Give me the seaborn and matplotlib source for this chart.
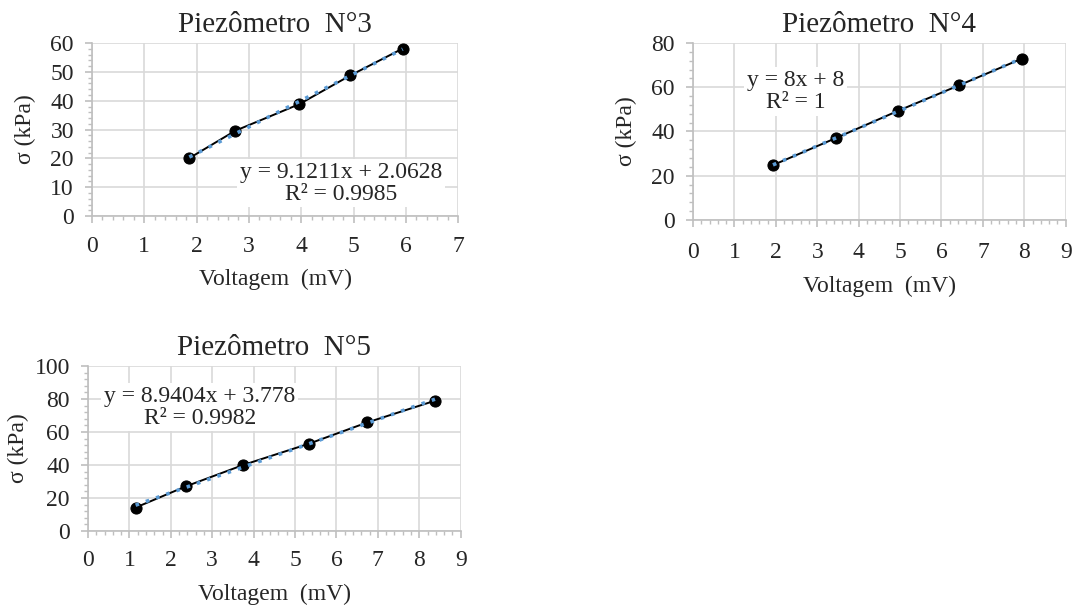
import numpy as np
import pandas as pd
import matplotlib
matplotlib.use('Agg')
import matplotlib.pyplot as plt
from matplotlib.ticker import MultipleLocator
import seaborn as sns

# ── Data ─────────────────────────────────────────────────────────────────────
P3_VOLT  = [1.86, 2.74, 3.96, 4.94, 5.94]
P3_SIGMA = [20.1, 29.6, 38.8, 48.8, 58.1]

P4_VOLT  = [1.93, 3.46, 4.96, 6.43, 7.94]
P4_SIGMA = [24.8, 37.1, 49.4, 60.9, 72.9]

P5_VOLT  = [1.15, 2.36, 3.75, 5.34, 6.75, 8.38]
P5_SIGMA = [14.2, 27.0, 40.0, 52.9, 65.8, 78.9]

TITLES   = ['Piezômetro  N°3', 'Piezômetro  N°4', 'Piezômetro  N°5']
EQUATIONS = ['y = 9.1211x + 2.0628\nR² = 0.9985',
             'y = 8x + 8\nR² = 1',
             'y = 8.9404x + 3.778\nR² = 0.9982']
XLIMS = [7, 9, 9]
YLIMS = [(60, 10, 2), (80, 20, 4), (100, 20, 4)]

GRID  = '#D9D9D9'
AXIS  = '#BFBFBF'
TREND = '#5B9BD5'

sns.set_theme(style='white')
plt.rcParams['font.family'] = ['Liberation Serif', 'DejaVu Serif']

fig = plt.figure(figsize=(10.77, 6.07), dpi=100)
rects = [
    [0.0854, 0.644, 0.340, 0.285],
    [0.6435, 0.6376, 0.346, 0.2916],
    [0.0817, 0.1252, 0.346, 0.272],
]
text_pos = [(0.68, 0.19), (0.275, 0.726), (0.30, 0.75)]
xpads = [9, 11, 9]
ylpads = [10, 10, 4]
datasets = [(P3_VOLT, P3_SIGMA), (P4_VOLT, P4_SIGMA), (P5_VOLT, P5_SIGMA)]

for i, (xs, ys) in enumerate(datasets):
    ax = fig.add_axes(rects[i])
    df = pd.DataFrame({'v': xs, 's': ys})

    sns.lineplot(data=df, x='v', y='s', ax=ax, color='black', linewidth=1.4,
                 marker='o', markersize=8, markeredgecolor='black', sort=False,
                 zorder=3)
    sns.regplot(data=df, x='v', y='s', ax=ax, scatter=False, ci=None,
                line_kws=dict(color=TREND, linestyle=(0, (1, 2)),
                              linewidth=2.6, zorder=4))

    ymax, ymaj, ymin = YLIMS[i]
    ax.set_xlim(0, XLIMS[i])
    ax.set_ylim(0, ymax)
    ax.xaxis.set_major_locator(MultipleLocator(1))
    ax.xaxis.set_minor_locator(MultipleLocator(0.2))
    ax.yaxis.set_major_locator(MultipleLocator(ymaj))
    ax.yaxis.set_minor_locator(MultipleLocator(ymin))

    ax.grid(True, which='major', color=GRID, linewidth=1.2)
    ax.set_axisbelow(True)
    for side in ('top', 'right'):
        ax.spines[side].set_visible(False)
    for side in ('left', 'bottom'):
        ax.spines[side].set_color(AXIS)
        ax.spines[side].set_linewidth(1.2)

    ax.tick_params(which='major', direction='out', length=5, width=1.2,
                   color=AXIS, labelsize=17, bottom=True, left=True)
    ax.tick_params(which='minor', direction='out', length=3, width=1,
                   color=AXIS, bottom=True, left=True)
    ax.tick_params(axis='x', which='major', pad=xpads[i])
    ax.tick_params(axis='y', which='major', pad=8)

    ax.set_title(TITLES[i], fontsize=21, pad=8)
    ax.set_xlabel('Voltagem  (mV)', fontsize=17, labelpad=9)
    ax.set_ylabel('σ (kPa)', fontsize=17, labelpad=ylpads[i])

    tx, ty = text_pos[i]
    ax.text(tx, ty, EQUATIONS[i], transform=ax.transAxes, ha='center',
            va='center', fontsize=17, linespacing=1.05, zorder=5,
            bbox=dict(facecolor='white', edgecolor='none', pad=2))

fig.savefig('out.png', dpi=100)
